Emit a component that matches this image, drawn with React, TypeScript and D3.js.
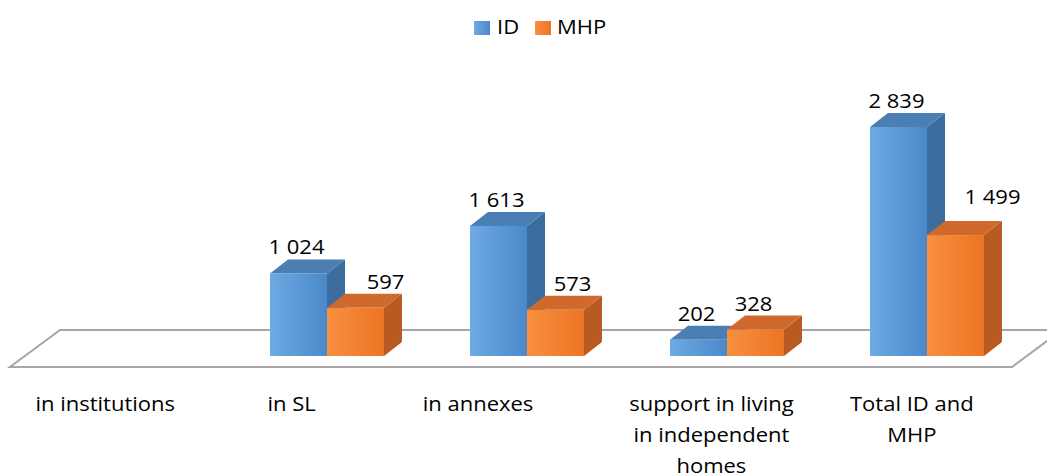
import React from 'react';
import * as d3 from 'd3';

const categories = ['in institutions', 'in SL', 'in annexes', 'support in living in independent homes', 'Total ID and MHP'];
const categoryLines = [['in institutions'], ['in SL'], ['in annexes'], ['support in living', 'in independent', 'homes'], ['Total ID and', 'MHP']];
const seriesNames = ['ID', 'MHP'];
const idValues = [0, 1024, 1613, 202, 2839];
const mhpValues = [0, 597, 573, 328, 1499];

const W = 1047;
const H = 474;
const FONT = "'Open Sans', 'Noto Sans', sans-serif";
const FS = 20;
const SX = 1.1; // the reference text is a little wider than Open Sans

// 3D look
const DX = 18;
const DY = -14;
const BASE = 356;

// label tweaks (the reference had some data labels moved by hand)
const labelShift: Record<string, [number, number]> = {
  'in SL-MHP': [32, 0],
  'in annexes-MHP': [19, 0],
  'Total ID and MHP-MHP': [39, -12],
};
const catLabelShift = [-5, -19, -33, 0, 0];

const palette = {
  ID: { front: ['#6eaae3', '#4a88c8'], side: '#3b6e9f', top: '#4b7fb4' },
  MHP: { front: ['#f98f40', '#ec7424'], side: '#b85a22', top: '#cf6a2c' },
};

const fmt = (v: number) => d3.format(',')(v).replace(/,/g, ' ');

const Txt = ({ x, y, children, anchor = 'middle' }: { x: number; y: number; children: React.ReactNode; anchor?: string }) => (
  <text transform={`translate(${x},${y}) scale(${SX},1)`} textAnchor={anchor} fontFamily={FONT} fontSize={FS} fill="#000">
    {children}
  </text>
);

export default function App() {
  const x = d3.scaleBand<string>().domain(categories).range([27, 1027]).padding(0);
  const y = d3.scaleLinear().domain([0, 2839]).range([BASE, BASE - 229]);
  const inner = d3.scaleBand<string>().domain(seriesNames).range([-57, 57]).padding(0);
  // category labels sit under the front edge of the floor
  const xFront = d3.scaleBand<string>().domain(categories).range([10, 1012]).padding(0);

  const bars: { key: string; s: string; x0: number; w: number; top: number; v: number }[] = [];
  categories.forEach((c, i) => {
    const cx = (x(c) as number) + x.bandwidth() / 2;
    [idValues[i], mhpValues[i]].forEach((v, j) => {
      if (!v) return;
      const s = seriesNames[j];
      bars.push({ key: `${c}-${s}`, s, x0: cx + (inner(s) as number), w: inner.bandwidth(), top: y(v), v });
    });
  });

  const floor = `M10,367 L1012,367 L1062,330 L60,330 Z`;

  return (
    <svg width={W} height={H} style={{ position: 'absolute', left: 0, top: 0, background: '#fff' }}>
      <defs>
        {seriesNames.map((s) => (
          <linearGradient key={s} id={`g-${s}`} x1="0" y1="0" x2="1" y2="0">
            <stop offset="0%" stopColor={palette[s as 'ID'].front[0]} />
            <stop offset="100%" stopColor={palette[s as 'ID'].front[1]} />
          </linearGradient>
        ))}
      </defs>

      <path d={floor} fill="#fff" stroke="#a6a6a6" strokeWidth={2} />

      {bars.map((b) => {
        const p = palette[b.s as 'ID'];
        const { x0, w, top } = b;
        return (
          <g key={b.key}>
            <path d={`M${x0 + w},${top} L${x0 + w + DX},${top + DY} L${x0 + w + DX},${BASE + DY} L${x0 + w},${BASE} Z`} fill={p.side} />
            <path d={`M${x0},${top} L${x0 + DX},${top + DY} L${x0 + w + DX},${top + DY} L${x0 + w},${top} Z`} fill={p.top} />
            <rect x={x0} y={top} width={w} height={BASE - top} fill={`url(#g-${b.s})`} />
          </g>
        );
      })}

      {bars.map((b) => {
        const [sx, sy] = labelShift[b.key] || [0, 0];
        return (
          <Txt key={`l-${b.key}`} x={b.x0 + b.w / 2 - 2 + sx} y={b.top + DY - 5 + sy}>{fmt(b.v)}</Txt>
        );
      })}

      {categories.map((c, i) => {
        const cx = (xFront(c) as number) + xFront.bandwidth() / 2 + catLabelShift[i];
        return (
          <g key={c}>
            {categoryLines[i].map((l, k) => (
              <Txt key={k} x={cx} y={411 + k * 31}>{l}</Txt>
            ))}
          </g>
        );
      })}

      <rect x={474} y={21} width={16} height={14} fill="url(#g-ID)" />
      <Txt x={497} y={34} anchor="start">ID</Txt>
      <rect x={535} y={21} width={16} height={14} fill="url(#g-MHP)" />
      <Txt x={557} y={34} anchor="start">MHP</Txt>
    </svg>
  );
}
